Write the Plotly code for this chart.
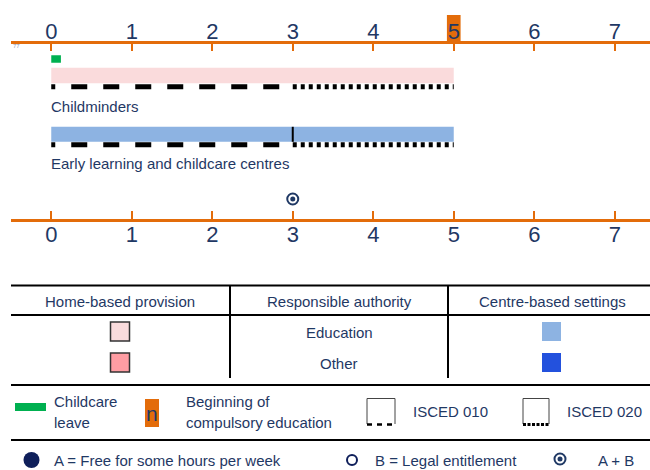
import plotly.graph_objects as go

# ---------------- data ----------------
AGES = [0, 1, 2, 3, 4, 5, 6, 7]
AGE_LABELS = ["0", "1", "2", "3", "4", "5", "6", "7"]
SETTINGS = ["Childminders", "Early learning and childcare centres"]
SETTING_KIND = ["home", "centre"]
SETTING_AUTHORITY = ["Education", "Education"]
SETTING_FROM = [0, 0]
SETTING_TO = [5, 5]
ISCED010 = [0, 3]
ISCED020 = [3, 5]
BAR_BREAKS = [[], [3]]
CHILDCARE_LEAVE = [0, 0.12]
COMPULSORY_AGE = 5
ENTITLEMENT_AGE = [3]
ENTITLEMENT_TYPE = ["A + B"]

TABLE_HEADERS = ["Home-based provision", "Responsible authority", "Centre-based settings"]
AUTHORITIES = ["Education", "Other"]

# ---------------- style ----------------
W, H = 650, 470
PX0 = 11          # pixel where the age axis line starts (age -0.5)
UNIT = 80.5       # pixels per year
NAVY = "#1F3864"
DARKNAVY = "#0F1F5A"
ORANGE = "#E36C0A"
GREEN = "#00B050"
FONT = "Liberation Sans, Arial, sans-serif"
HOME_COLORS = {"Education": "#FADBDC", "Other": "#FF9DA3"}
CENTRE_COLORS = {"Education": "#8DB3E2", "Other": "#2351DD"}

ROW_Y = [75.5, 134.3]
ROW_H = [15.5, 15]
ROW_DASH_Y = [86.8, 144.8]
ROW_LABEL_Y = [106.5, 163]

x_range = [-0.5, -0.5 + (W - PX0) / UNIT]

fig = go.Figure()

# childcare leave
fig.add_trace(go.Bar(orientation="h", base=[CHILDCARE_LEAVE[0]],
                     x=[CHILDCARE_LEAVE[1] - CHILDCARE_LEAVE[0]], y=[59], width=[7.5],
                     marker=dict(color=GREEN, line=dict(width=0)), hoverinfo="skip",
                     xaxis="x", yaxis="y"))

dash010 = "4px,16px" + ",16px,16px" * 7
for i, name in enumerate(SETTINGS):
    colmap = HOME_COLORS if SETTING_KIND[i] == "home" else CENTRE_COLORS
    fig.add_trace(go.Bar(orientation="h", base=[SETTING_FROM[i]],
                         x=[SETTING_TO[i] - SETTING_FROM[i]], y=[ROW_Y[i]], width=[ROW_H[i]],
                         marker=dict(color=colmap[SETTING_AUTHORITY[i]], line=dict(width=0)),
                         hoverinfo="skip", xaxis="x", yaxis="y"))
    for b in BAR_BREAKS[i]:
        fig.add_trace(go.Scatter(x=[b, b], y=[ROW_Y[i] - ROW_H[i] / 2, ROW_Y[i] + ROW_H[i] / 2],
                                 mode="lines", line=dict(color="black", width=2),
                                 hoverinfo="skip", xaxis="x", yaxis="y"))
    fig.add_trace(go.Scatter(x=ISCED010, y=[ROW_DASH_Y[i]] * 2, mode="lines",
                             line=dict(color="black", width=5, dash=dash010),
                             hoverinfo="skip", xaxis="x", yaxis="y"))
    fig.add_trace(go.Scatter(x=ISCED020, y=[ROW_DASH_Y[i]] * 2, mode="lines",
                             line=dict(color="black", width=5, dash="4px,4px"),
                             hoverinfo="skip", xaxis="x", yaxis="y"))
    fig.add_annotation(x=SETTING_FROM[i], y=ROW_LABEL_Y[i], xref="x", yref="y", text=name,
                       showarrow=False, xanchor="left", yanchor="middle", xshift=-2,
                       font=dict(size=15, color=NAVY, family=FONT))

# entitlement marker (A + B)
fig.add_trace(go.Scatter(x=ENTITLEMENT_AGE, y=[199] * len(ENTITLEMENT_AGE), mode="markers",
                         marker=dict(symbol="circle-open", size=11, color=NAVY,
                                     line=dict(color=NAVY, width=2)),
                         hoverinfo="skip", xaxis="x", yaxis="y"))
fig.add_trace(go.Scatter(x=ENTITLEMENT_AGE, y=[199] * len(ENTITLEMENT_AGE), mode="markers",
                         marker=dict(symbol="circle", size=5, color=NAVY),
                         hoverinfo="skip", xaxis="x", yaxis="y"))

# beginning of compulsory education (box behind the top tick label)
fig.add_trace(go.Bar(orientation="h", base=[COMPULSORY_AGE - 0.085], x=[0.17], y=[28.5], width=[27],
                     marker=dict(color=ORANGE, line=dict(width=0)), hoverinfo="skip",
                     xaxis="x2", yaxis="y"))

# ---------------- legend / table (pixel canvas x3/y3) ----------------
def text(x, y, s, size=15, anchor="left", color=NAVY):
    fig.add_annotation(x=x, y=y, xref="x3", yref="y3", text=s, showarrow=False,
                       xanchor=anchor, yanchor="middle",
                       font=dict(size=size, color=color, family=FONT))

def hline(y, x0=11, x1=650, w=2, color="black", dash=None):
    fig.add_shape(type="line", x0=x0, x1=x1, y0=y, y1=y, xref="x3", yref="y3",
                  line=dict(color=color, width=w, dash=dash))

def vline(x, y0, y1, w=2, color="black"):
    fig.add_shape(type="line", x0=x, x1=x, y0=y0, y1=y1, xref="x3", yref="y3",
                  line=dict(color=color, width=w))

def rect(x0, y0, x1, y1, fill, lw=0, lc="#333333"):
    fig.add_shape(type="rect", x0=x0, x1=x1, y0=y0, y1=y1, xref="x3", yref="y3",
                  fillcolor=fill, line=dict(color=lc, width=lw))

hline(285.5)
hline(315)
hline(385)
hline(440)
vline(230, 285, 378)
vline(448, 285, 378)
text(120, 301, TABLE_HEADERS[0], anchor="center")
text(339, 301, TABLE_HEADERS[1], anchor="center")
text(552, 301, TABLE_HEADERS[2], anchor="center")
for j, auth in enumerate(AUTHORITIES):
    yc = [331.5, 362.5][j]
    rect(110.5, yc - 9.5, 129.5, yc + 9.5, HOME_COLORS[auth], lw=1.5)
    rect(542, yc - 9.5, 561, yc + 9.5, CENTRE_COLORS[auth])
    text(339, yc + 0.5, auth, anchor="center")

# legend row 1
rect(15, 403, 46, 411, GREEN)
text(52, 401, "Childcare")
text(52, 422, "leave")
rect(145, 399, 159, 427, ORANGE)
text(152, 413, "n", size=21, anchor="center")
text(184, 401, "Beginning of")
text(184, 422, "compulsory education")
for x0, x1, label, dash, lw in [(367, 395, "ISCED 010", "5px,5px", 2.5), (523, 549, "ISCED 020", "3px,1.5px", 3)]:
    fig.add_shape(type="path", path=f"M{x0},424 L{x0},398.5 L{x1},398.5 L{x1},424",
                  xref="x3", yref="y3", line=dict(color="#444444", width=1))
    hline(424.5, x0, x1 + 1, w=lw, dash=dash)
    text(x1 + 16, 411.5, label)

# legend row 2
fig.add_trace(go.Scatter(x=[31.5], y=[460], mode="markers", xaxis="x3", yaxis="y3",
                         marker=dict(symbol="circle", size=16, color=DARKNAVY), hoverinfo="skip"))
text(52, 460, "A = Free for some hours per week")
fig.add_trace(go.Scatter(x=[352], y=[460], mode="markers", xaxis="x3", yaxis="y3",
                         marker=dict(symbol="circle-open", size=10, color=DARKNAVY,
                                     line=dict(color=DARKNAVY, width=2)),
                         hoverinfo="skip"))
text(373, 460, "B = Legal entitlement")
fig.add_trace(go.Scatter(x=[560], y=[459], mode="markers", xaxis="x3", yaxis="y3",
                         marker=dict(symbol="circle-open", size=11, color=NAVY,
                                     line=dict(color=NAVY, width=2)),
                         hoverinfo="skip"))
fig.add_trace(go.Scatter(x=[560], y=[459], mode="markers", xaxis="x3", yaxis="y3",
                         marker=dict(symbol="circle", size=5, color=NAVY), hoverinfo="skip"))
text(596, 460, ENTITLEMENT_TYPE[0])

# tiny stray mark at the start of the top axis
text(11, 46, "77", size=6, color="#8C96B4")

axis_common = dict(range=x_range, domain=[PX0 / W, 1], tickmode="array", tickvals=AGES,
                   ticktext=AGE_LABELS, ticks="inside", tickcolor=ORANGE, tickwidth=2,
                   showline=True, linecolor=ORANGE, linewidth=2.5, showgrid=False,
                   zeroline=False, tickfont=dict(size=22, color=NAVY, family=FONT),
                   fixedrange=True)

fig.update_layout(
    width=W, height=H, margin=dict(l=0, r=0, t=0, b=0),
    paper_bgcolor="white", plot_bgcolor="rgba(0,0,0,0)",
    showlegend=False, barmode="overlay",
    xaxis=dict(**axis_common, anchor="free", position=1 - 220 / H, side="bottom", ticklen=8,
               ticklabelstandoff=-6),
    xaxis2=dict(**axis_common, anchor="free", position=1 - 42 / H, side="top",
                overlaying="x", ticklen=7, ticklabelstandoff=-7),
    yaxis=dict(range=[H, 0], domain=[0, 1], visible=False, fixedrange=True),
    xaxis3=dict(range=[0, W], domain=[0, 1], visible=False, anchor="y3", fixedrange=True),
    yaxis3=dict(range=[H, 0], domain=[0, 1], visible=False, anchor="x3", fixedrange=True),
)

fig.write_html("out.html", config={"displayModeBar": False},
               post_script="document.body.style.margin='0';")
